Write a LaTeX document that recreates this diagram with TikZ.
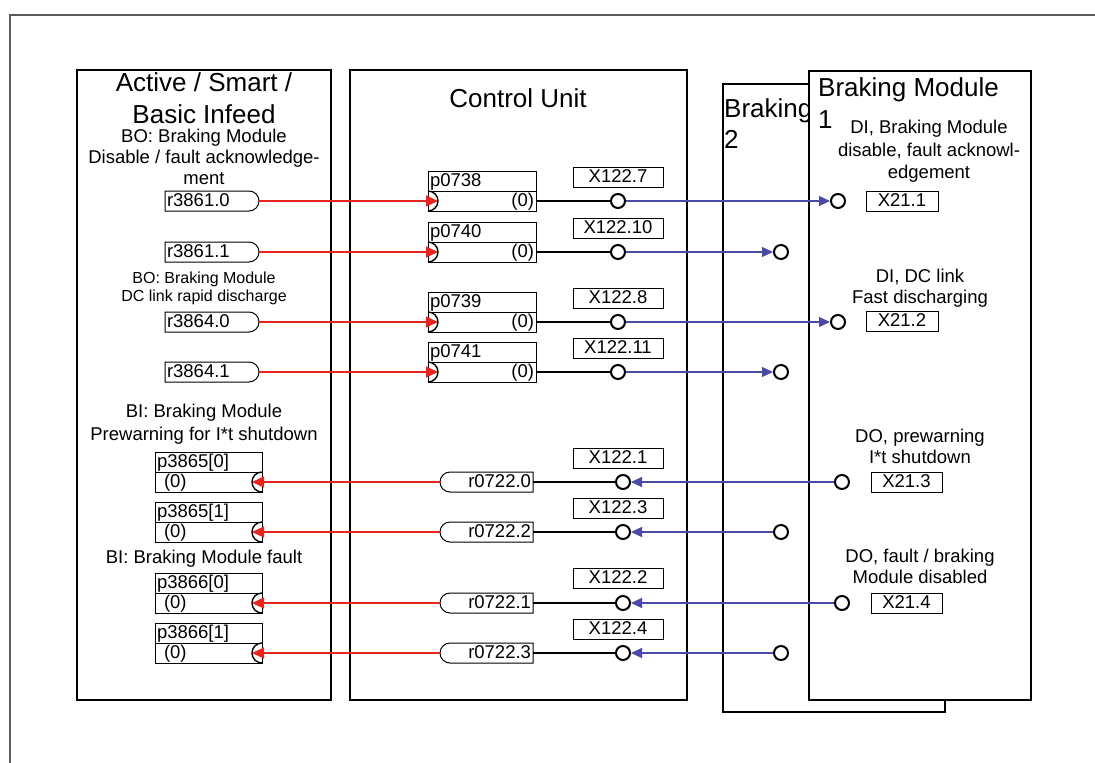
\documentclass[tikz,border=0pt]{standalone}
\usepackage{fontspec}
\setmainfont{Liberation Sans}
\usetikzlibrary{arrows.meta,calc}
\definecolor{redc}{RGB}{230,38,30}
\definecolor{bluec}{RGB}{75,75,165}
\definecolor{framec}{RGB}{90,90,90}
\tikzset{
 bigbox/.style={draw=black, line width=2.5pt},
 ttl/.style={font=\fontsize{26}{32}\selectfont, inner sep=0pt, anchor=base},
 lbl/.style={font=\fontsize{18.5}{21}\selectfont, inner sep=0pt, anchor=base},
 slbl/.style={font=\fontsize{16}{18}\selectfont, inner sep=0pt, anchor=base},
 sbox/.style={draw=black, line width=1pt, inner sep=0pt, outer sep=0pt, minimum height=20pt, text height=14.5pt, text depth=4.5pt, font=\fontsize{18.5}{21}\selectfont},
 body/.style={inner xsep=2pt, inner ysep=0pt, outer sep=0pt, minimum height=20pt, text height=14.5pt, text depth=4.5pt, font=\fontsize{18.5}{21}\selectfont},
 outl/.style={draw=black, line width=1pt},
 term/.style={circle, draw=black, line width=2pt, minimum size=14pt, inner sep=0pt, fill=white},
 redarr/.style={draw=redc, line width=1.2pt, -{Triangle[length=12pt,width=11pt]}},
 bluearr/.style={draw=bluec, line width=1.2pt, -{Triangle[length=11pt,width=10pt]}},
 blkln/.style={draw=black, line width=1.2pt},
}
% output with rounded right end
\newcommand\myRout[4]{%
  \node[body, anchor=west, text width=80pt, align=left] (#1) at (#2,#3) {#4};
  \draw[outl] (#1.north west) -- (#1.north east) arc[start angle=90,end angle=-90,radius=10pt] -- (#1.south west) -- cycle;
  \coordinate (#1-tip) at ([xshift=10pt]#1.east);
}
% output with rounded left end
\newcommand\myRin[4]{%
  \node[body, anchor=east, text width=79pt, align=right] (#1) at (#2,#3) {#4};
  \draw[outl] (#1.north east) -- (#1.north west) arc[start angle=90,end angle=270,radius=10pt] -- (#1.south east) -- cycle;
  \coordinate (#1-tip) at ([xshift=-10pt]#1.west);
}
% input box with arc at left: name, x-left, y-centre of lower part, head, value
\newcommand\myPin[5]{%
  \node[sbox, anchor=west, minimum width=108pt, text width=104pt, align=left, inner xsep=2pt] (#1-hd) at (#2,#3-20) {#4};
  \node[sbox, anchor=west, minimum width=108pt, text width=104pt, align=right, inner xsep=2pt] (#1-lo) at (#2,#3) {#5};
  \draw[outl, line width=1.4pt] (#1-lo.north west) arc[start angle=90,end angle=-90,radius=10pt];
  \coordinate (#1-tip) at ([xshift=10pt]#1-lo.west);
}
% input box with arc at right
\newcommand\myPout[5]{%
  \node[sbox, anchor=west, minimum width=107pt, text width=103pt, align=left, inner xsep=2pt] (#1-hd) at (#2,#3-20) {#4};
  \node[sbox, anchor=west, minimum width=107pt, text width=103pt, align=left, inner xsep=2pt] (#1-lo) at (#2,#3) {#5};
  \draw[outl, line width=1.4pt] (#1-lo.north east) arc[start angle=90,end angle=270,radius=10pt];
  \coordinate (#1-tip) at ([xshift=-10pt]#1-lo.east);
}
\begin{document}
\begin{tikzpicture}[x=1pt,y=-1pt]
\useasboundingbox (0,0) rectangle (1095,763);
% outer frame
\draw[framec, line width=1.5pt] (1095,15) -- (10,15) -- (10,763);
% big boxes
\draw[bigbox] (77,70) rectangle (331,700);
\draw[bigbox] (350,70) rectangle (687,700);
\draw[bigbox] (723,84) rectangle (945,712);
\node[ttl, anchor=base west] (b2t1) at (724,117) {Braking};
\node[ttl, anchor=base west] (b2t2) at (724,148) {2};
\draw[bigbox, fill=white] (809,71) rectangle (1031,700);
\node[ttl, anchor=base west] (b1t1) at (818,96) {Braking Module};
\node[ttl, anchor=base west] (b1t2) at (818,128) {1};
% titles
\node[ttl] (at1) at (204,91) {Active / Smart /};
\node[ttl] (at2) at (204,123) {Basic Infeed};
\node[ttl] (cut) at (518,107) {Control Unit};
% left labels
\node[lbl] (l1) at (204,142) {BO: Braking Module};
\node[lbl] (l2) at (204,163) {Disable / fault acknowledge-};
\node[lbl] (l3) at (204,184) {ment};
\node[slbl] (l4) at (204,283) {BO: Braking Module};
\node[slbl] (l5) at (204,301) {DC link rapid discharge};
\node[lbl] (l6) at (204,417) {BI: Braking Module};
\node[lbl] (l7) at (204,440) {Prewarning for I*t shutdown};
\node[lbl] (l8) at (204,563) {BI: Braking Module fault};
% braking module labels
\node[lbl] (m1) at (929,133) {DI, Braking Module};
\node[lbl] (m2) at (929,156) {disable, fault acknowl-};
\node[lbl] (m3) at (929,178) {edgement};
\node[lbl] (m4) at (920,282) {DI, DC link};
\node[lbl] (m5) at (920,303) {Fast discharging};
\node[lbl] (m6) at (920,442) {DO, prewarning};
\node[lbl] (m7) at (920,463) {I*t shutdown};
\node[lbl] (m8) at (920,562) {DO, fault / braking};
\node[lbl] (m9) at (920,583) {Module disabled};
% left outputs
\myRout{ra1}{165}{201}{r3861.0}
\myRout{ra2}{165}{252}{r3861.1}
\myRout{ra3}{165}{322}{r3864.0}
\myRout{ra4}{165}{372}{r3864.1}
% CU inputs
\myPin{pa1}{428}{201}{p0738}{(0)}
\myPin{pa2}{428}{252}{p0740}{(0)}
\myPin{pa3}{428}{322}{p0739}{(0)}
\myPin{pa4}{428}{372}{p0741}{(0)}
% X122 upper
\node[sbox, minimum width=90pt] (xa1) at (618,177) {X122.7};
\node[sbox, minimum width=90pt] (xa2) at (618,228) {X122.10};
\node[sbox, minimum width=90pt] (xa3) at (618,298) {X122.8};
\node[sbox, minimum width=90pt] (xa4) at (618,348) {X122.11};
% X21 boxes
\node[sbox, minimum width=72pt] (xm1) at (902,201) {X21.1};
\node[sbox, minimum width=72pt] (xm2) at (902,321.5) {X21.2};
\node[sbox, minimum width=71pt] (xm3) at (906.5,482.5) {X21.3};
\node[sbox, minimum width=71pt] (xm4) at (906.5,603.5) {X21.4};
% CU outputs lower
\myRin{rb1}{533}{482}{r0722.0}
\myRin{rb2}{533}{532}{r0722.2}
\myRin{rb3}{533}{603}{r0722.1}
\myRin{rb4}{533}{653}{r0722.3}
% left inputs lower
\myPout{pb1}{155}{482}{p3865[0]}{\hspace*{7pt}(0)}
\myPout{pb2}{155}{532}{p3865[1]}{\hspace*{7pt}(0)}
\myPout{pb3}{155}{603}{p3866[0]}{\hspace*{7pt}(0)}
\myPout{pb4}{155}{653}{p3866[1]}{\hspace*{7pt}(0)}
% X122 lower
\node[sbox, minimum width=90pt] (xb1) at (618,458) {X122.1};
\node[sbox, minimum width=90pt] (xb2) at (618,508) {X122.3};
\node[sbox, minimum width=90pt] (xb3) at (618,578) {X122.2};
\node[sbox, minimum width=90pt] (xb4) at (618,629) {X122.4};
% terminals
\node[term] (ca1) at (618,201) {};
\node[term] (ca2) at (618,252) {};
\node[term] (ca3) at (618,322) {};
\node[term] (ca4) at (618,372) {};
\node[term] (da1) at (838,201) {};
\node[term] (da2) at (781,252) {};
\node[term] (da3) at (838,322) {};
\node[term] (da4) at (781,372) {};
\node[term] (cb1) at (623,482) {};
\node[term] (cb2) at (623,532) {};
\node[term] (cb3) at (623,603) {};
\node[term] (cb4) at (623,653) {};
\node[term] (db1) at (842,482) {};
\node[term] (db2) at (781,532) {};
\node[term] (db3) at (842,603) {};
\node[term] (db4) at (781,653) {};
% red connectors
\draw[redarr] (ra1-tip) -- (pa1-tip);
\draw[redarr] (ra2-tip) -- (pa2-tip);
\draw[redarr] (ra3-tip) -- (pa3-tip);
\draw[redarr] (ra4-tip) -- (pa4-tip);
\draw[redarr] (rb1-tip) -- (pb1-tip);
\draw[redarr] (rb2-tip) -- (pb2-tip);
\draw[redarr] (rb3-tip) -- (pb3-tip);
\draw[redarr] (rb4-tip) -- (pb4-tip);
% black connectors
\draw[blkln] (pa1-lo.east) -- (ca1);
\draw[blkln] (pa2-lo.east) -- (ca2);
\draw[blkln] (pa3-lo.east) -- (ca3);
\draw[blkln] (pa4-lo.east) -- (ca4);
\draw[blkln] (rb1.east) -- (cb1);
\draw[blkln] (rb2.east) -- (cb2);
\draw[blkln] (rb3.east) -- (cb3);
\draw[blkln] (rb4.east) -- (cb4);
% blue connectors
\draw[bluearr] (ca1) -- (da1);
\draw[bluearr] (ca2) -- (da2);
\draw[bluearr] (ca3) -- (da3);
\draw[bluearr] (ca4) -- (da4);
\draw[bluearr] (db1) -- (cb1);
\draw[bluearr] (db2) -- (cb2);
\draw[bluearr] (db3) -- (cb3);
\draw[bluearr] (db4) -- (cb4);
\end{tikzpicture}
\end{document}
